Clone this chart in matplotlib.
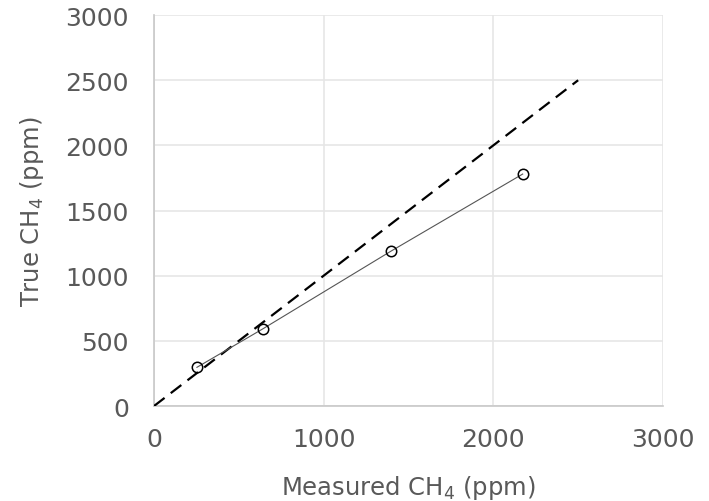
import numpy as np
import matplotlib
matplotlib.use('Agg')
import matplotlib.pyplot as plt

measured = [253, 640, 1395, 2173]
true_vals = [297, 591, 1187, 1780]
one_to_one = [0, 2500]
ticks = [0, 500, 1000, 1500, 2000, 2500, 3000]
xticks = [0, 1000, 2000, 3000]

txt = '#595959'
plt.rcParams['font.family'] = ['DejaVu Sans']
plt.rcParams['mathtext.fontset'] = 'dejavusans'

fig = plt.figure(figsize=(7.09, 5.02), dpi=100)
ax = fig.add_axes([0.2172, 0.1892, 0.7179, 0.7788])

ax.plot(one_to_one, one_to_one, color='black', lw=1.6, ls=(0, (6, 3.5)), zorder=3)
ax.plot(measured, true_vals, color='#555555', lw=0.8, marker='o', ms=7.5,
        mfc='none', mec='black', mew=1.1, zorder=4)

ax.set_xlim(0, 3000)
ax.set_ylim(0, 3000)
ax.set_xticks(xticks)
ax.set_yticks(ticks)
ax.grid(True, color='#e6e6e6', lw=1.2)
ax.set_axisbelow(True)
for s in ['top', 'right']:
    ax.spines[s].set_visible(False)
for s in ['left', 'bottom']:
    ax.spines[s].set_color('#c8c8c8')
    ax.spines[s].set_linewidth(1.2)
ax.tick_params(axis='both', length=0, labelsize=18, labelcolor=txt)
ax.tick_params(axis='y', pad=18)
ax.tick_params(axis='x', pad=15)

ax.set_xlabel('Measured CH$_4$ (ppm)', fontsize=17.5, color=txt, labelpad=16)
ax.set_ylabel('True CH$_4$ (ppm)', fontsize=17.5, color=txt, labelpad=14)

fig.savefig('out.png', dpi=100)
